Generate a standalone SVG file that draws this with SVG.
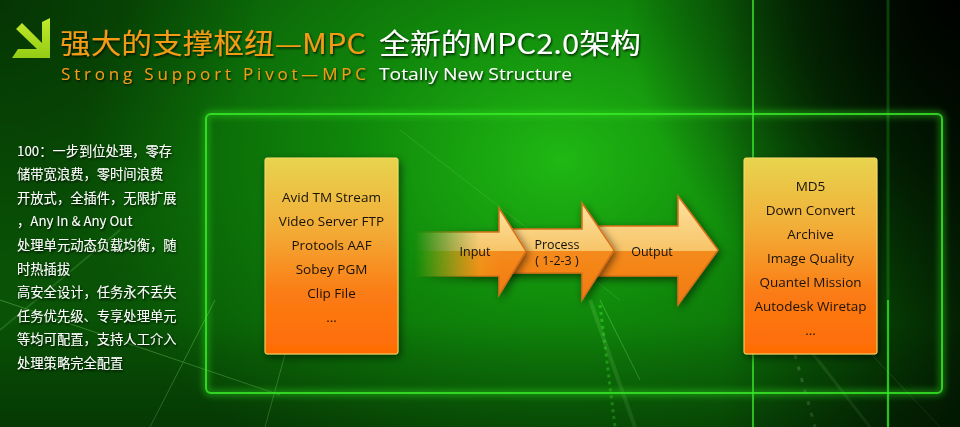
<svg xmlns="http://www.w3.org/2000/svg" width="960" height="427" viewBox="0 0 960 427">
<defs>
<radialGradient id="bgGlow" cx="560" cy="160" r="480" gradientUnits="userSpaceOnUse" gradientTransform="translate(560 160) scale(1 0.75) translate(-560 -160)">
<stop offset="0" stop-color="#20b814"/>
<stop offset="0.45" stop-color="#10860b"/>
<stop offset="1" stop-color="#095206"/>
</radialGradient>
<radialGradient id="cornerDark" cx="960" cy="0" r="330" gradientUnits="userSpaceOnUse">
<stop offset="0" stop-color="#000" stop-opacity="0.95"/>
<stop offset="0.5" stop-color="#000" stop-opacity="0.6"/>
<stop offset="1" stop-color="#000" stop-opacity="0"/>
</radialGradient>
<radialGradient id="tlDark" cx="0" cy="0" r="260" gradientUnits="userSpaceOnUse">
<stop offset="0" stop-color="#000" stop-opacity="0.35"/>
<stop offset="1" stop-color="#000" stop-opacity="0"/>
</radialGradient>
<linearGradient id="rightDark" x1="0" y1="0" x2="1" y2="0">
<stop offset="0" stop-color="#000" stop-opacity="0"/>
<stop offset="0.75" stop-color="#000" stop-opacity="0"/>
<stop offset="1" stop-color="#000" stop-opacity="0.6"/>
</linearGradient>
<linearGradient id="bottomDark" x1="0" y1="0" x2="0" y2="1">
<stop offset="0.75" stop-color="#000" stop-opacity="0"/>
<stop offset="1" stop-color="#000" stop-opacity="0.3"/>
</linearGradient>
<linearGradient id="boxFill" x1="0" y1="0" x2="0" y2="1">
<stop offset="0" stop-color="#e7d44e"/>
<stop offset="0.35" stop-color="#f2ae38"/>
<stop offset="0.7" stop-color="#fb7b14"/>
<stop offset="1" stop-color="#ff6c04"/>
</linearGradient>
<linearGradient id="arrowFill" x1="0" y1="0" x2="0" y2="1">
<stop offset="0" stop-color="#fde3a0"/>
<stop offset="0.5" stop-color="#f7c468"/>
<stop offset="0.5" stop-color="#f58b1c"/>
<stop offset="1" stop-color="#f27a10"/>
</linearGradient>
<linearGradient id="iconFill" x1="0" y1="0" x2="0" y2="1">
<stop offset="0" stop-color="#c2ea2a"/>
<stop offset="1" stop-color="#94cc14"/>
</linearGradient>
<linearGradient id="fadeMaskGrad" x1="415" y1="0" x2="480" y2="0" gradientUnits="userSpaceOnUse">
<stop offset="0" stop-color="#fff" stop-opacity="0"/>
<stop offset="1" stop-color="#fff" stop-opacity="1"/>
</linearGradient>
<mask id="fadeMask" maskUnits="userSpaceOnUse" x="0" y="0" width="960" height="427">
<rect x="0" y="0" width="960" height="427" fill="url(#fadeMaskGrad)"/>
</mask>
<linearGradient id="tailTint" x1="420" y1="0" x2="500" y2="0" gradientUnits="userSpaceOnUse">
<stop offset="0" stop-color="#c8d020" stop-opacity="0.8"/>
<stop offset="1" stop-color="#e8c020" stop-opacity="0"/>
</linearGradient>
<filter id="glow" x="-10%" y="-10%" width="120%" height="120%">
<feGaussianBlur stdDeviation="3"/>
</filter>
<filter id="shadow" x="-20%" y="-20%" width="140%" height="140%">
<feDropShadow dx="2" dy="3" stdDeviation="4" flood-color="#000" flood-opacity="0.55"/>
</filter>
<filter id="txtShadow" x="-5%" y="-20%" width="110%" height="150%">
<feDropShadow dx="1" dy="1.5" stdDeviation="1" flood-color="#000" flood-opacity="0.8"/>
</filter>
<style>
.side{font-family:"Noto Sans CJK SC","Noto Sans",sans-serif;font-size:13.3px;fill:#ffffff;}
.box{fill:url(#boxFill);stroke:#f6dc6a;stroke-width:1;}
.btxt{font-family:"Open Sans","Noto Sans",sans-serif;font-size:13.5px;fill:#1a1208;text-anchor:middle;}
.arrow{fill:url(#arrowFill);stroke:#d97018;stroke-width:1.5;stroke-linejoin:miter;}
.atxt{font-family:"Open Sans","Noto Sans",sans-serif;font-size:12.5px;fill:#111;text-anchor:middle;}
.streak{stroke:#8ff07a;fill:none;}
</style>
</defs>

<!-- background -->
<rect x="0" y="0" width="960" height="427" fill="url(#bgGlow)"/>
<g opacity="0.35">
<line class="streak" x1="0" y1="300" x2="280" y2="395" stroke-width="1"/>
<line class="streak" x1="150" y1="427" x2="215" y2="300" stroke-width="1"/>
<line class="streak" x1="0" y1="330" x2="120" y2="230" stroke-width="2" opacity="0.5"/>
<line class="streak" x1="265" y1="427" x2="300" y2="300" stroke-width="1"/>
<line class="streak" x1="590" y1="300" x2="635" y2="427" stroke-width="4" opacity="0.5"/>
<line class="streak" x1="600" y1="300" x2="640" y2="380" stroke-width="1"/>
<line class="streak" x1="810" y1="350" x2="870" y2="427" stroke-width="3" opacity="0.6"/>
<line class="streak" x1="820" y1="300" x2="940" y2="427" stroke-width="1"/>
<line class="streak" x1="400" y1="130" x2="620" y2="300" stroke-width="1" opacity="0.5"/>
</g>
<line x1="600" y1="305" x2="615" y2="427" stroke="#3ee030" stroke-width="3" stroke-dasharray="3 4" opacity="0.5"/>
<line x1="795" y1="355" x2="815" y2="427" stroke="#9fe090" stroke-width="3" stroke-dasharray="4 8" opacity="0.35"/>
<rect x="0" y="0" width="960" height="427" fill="url(#tlDark)"/>
<rect x="0" y="0" width="960" height="427" fill="url(#cornerDark)"/>
<rect x="0" y="0" width="960" height="427" fill="url(#rightDark)"/>
<rect x="0" y="0" width="960" height="427" fill="url(#bottomDark)"/>

<!-- vertical light lines -->
<g>
<line x1="753" y1="0" x2="753" y2="427" stroke="#3af02c" stroke-width="6" opacity="0.35" filter="url(#glow)"/>
<line x1="753" y1="0" x2="753" y2="427" stroke="#40f030" stroke-width="2" opacity="0.7"/>
<line x1="888" y1="0" x2="888" y2="427" stroke="#2ad020" stroke-width="3" opacity="0.25"/>
<line x1="888" y1="300" x2="888" y2="427" stroke="#3af02c" stroke-width="2" opacity="0.7"/>
</g>

<!-- frame -->
<g id="frame">
<rect x="206" y="114" width="736" height="279" rx="5" fill="#2ad020" fill-opacity="0.04" stroke="#30e020" stroke-width="6" opacity="0.45" filter="url(#glow)"/>
<rect x="206" y="114" width="736" height="279" rx="5" fill="none" stroke="#3aee28" stroke-width="2" opacity="0.8"/>
</g>

<!-- title -->
<g id="title">
<polygon points="42,22 50,18 50,58 12,58 18,49 37,49 16,29 22,23 42,43" fill="url(#iconFill)"/>
<g filter="url(#txtShadow)">
<text x="60" y="54" font-family="'Noto Sans CJK SC','Noto Sans',sans-serif" font-size="28" fill="#f49b19" textLength="306" lengthAdjust="spacingAndGlyphs">强大的支撑枢纽—MPC</text>
<text x="379" y="54" font-family="'Noto Sans CJK SC','Noto Sans',sans-serif" font-size="28" fill="#ffffff" textLength="262" lengthAdjust="spacingAndGlyphs">全新的MPC2.0架构</text>
<text x="61" y="80" font-family="'Open Sans','Noto Sans',sans-serif" font-size="17" fill="#f49b19" textLength="305" lengthAdjust="spacing">Strong Support Pivot—MPC</text>
<text x="379" y="80" font-family="'Open Sans','Noto Sans',sans-serif" font-size="17" fill="#ffffff" textLength="193" lengthAdjust="spacingAndGlyphs">Totally New Structure</text>
</g>
</g>

<!-- side text -->
<g id="features" filter="url(#txtShadow)">
<text class="side" x="17" y="155.5">100：一步到位处理，零存</text>
<text class="side" x="17" y="179.1">储带宽浪费，零时间浪费</text>
<text class="side" x="17" y="202.7">开放式，全插件，无限扩展</text>
<text class="side" x="17" y="226.3">，Any In &amp; Any Out</text>
<text class="side" x="17" y="249.9">处理单元动态负载均衡，随</text>
<text class="side" x="17" y="273.5">时热插拔</text>
<text class="side" x="17" y="297.1">高安全设计，任务永不丢失</text>
<text class="side" x="17" y="320.7">任务优先级、专享处理单元</text>
<text class="side" x="17" y="344.3">等均可配置，支持人工介入</text>
<text class="side" x="17" y="367.9">处理策略完全配置</text>
</g>

<!-- connectors (process arrows) -->
<g id="connectors">
<g id="arrow-output" filter="url(#shadow)">
<polygon class="arrow" points="590,226 678,226 678,196 718,250 678,305 678,276 590,276"/>
<text class="atxt" x="652" y="256">Output</text>
</g>
<g id="arrow-process" filter="url(#shadow)">
<polygon class="arrow" points="505,229 582,229 582,203 614,250 582,300 582,273 505,273"/>
<text class="atxt" x="557" y="249">Process</text>
<text class="atxt" x="557" y="265">( 1-2-3 )</text>
</g>
<g id="arrow-input" filter="url(#shadow)">
<g mask="url(#fadeMask)">
<polygon class="arrow" points="405,232 499,232 499,208 526,251 499,295 499,276 405,276"/>
<rect x="405" y="251" width="95" height="25" fill="url(#tailTint)"/>
</g>
<text class="atxt" x="475" y="256">Input</text>
</g>
</g>

<!-- source node -->
<g id="node-input">
<rect class="box" x="265" y="158" width="133" height="196" rx="2" filter="url(#shadow)"/>
<text class="btxt" x="331.5" y="202">Avid TM Stream</text>
<text class="btxt" x="331.5" y="226">Video Server FTP</text>
<text class="btxt" x="331.5" y="250">Protools AAF</text>
<text class="btxt" x="331.5" y="274">Sobey PGM</text>
<text class="btxt" x="331.5" y="298">Clip File</text>
<text class="btxt" x="331.5" y="322">...</text>
</g>

<!-- destination node -->
<g id="node-output">
<rect class="box" x="744" y="158" width="133" height="196" rx="2" filter="url(#shadow)"/>
<text class="btxt" x="810.5" y="191">MD5</text>
<text class="btxt" x="810.5" y="215">Down Convert</text>
<text class="btxt" x="810.5" y="239">Archive</text>
<text class="btxt" x="810.5" y="263">Image Quality</text>
<text class="btxt" x="810.5" y="287">Quantel Mission</text>
<text class="btxt" x="810.5" y="311">Autodesk Wiretap</text>
<text class="btxt" x="810.5" y="335">...</text>
</g>
</svg>
